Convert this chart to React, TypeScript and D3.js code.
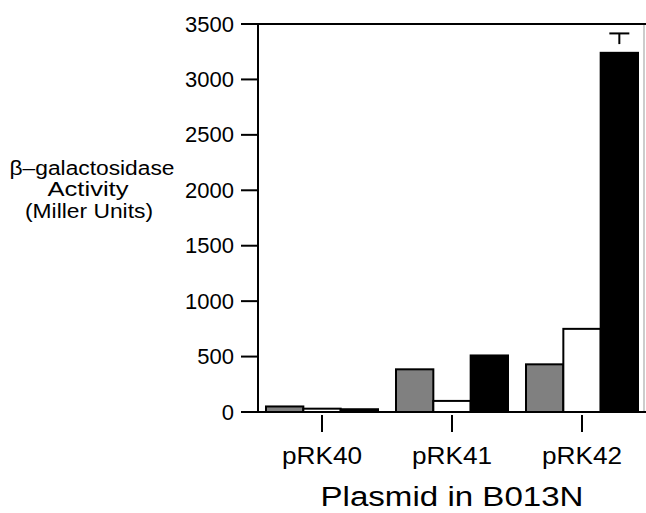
import * as d3 from "d3";

const plasmids = ["pRK40", "pRK41", "pRK42"];
const seriesKeys = ["gray", "white", "black"];
const grayValues = [50, 385, 430];
const whiteValues = [30, 100, 750];
const blackValues = [25, 510, 3240];
// only the pRK42 black bar carries an error bar
const blackErrors = [0, 0, 175];
const yTicks = [0, 500, 1000, 1500, 2000, 2500, 3000, 3500];

const FILL: Record<string, string> = { gray: "#808080", white: "#ffffff", black: "#000000" };
const FONT = "'Liberation Sans', Arial, Helvetica, sans-serif";

export default function App() {
  const W = 646, H = 513;
  const left = 258, top = 24, bottom = 412, right = 644;

  const x = d3.scaleBand<string>().domain(plasmids).range([257, 647])
    .paddingInner(0.1385).paddingOuter(0.0692);
  const xs = d3.scaleBand<string>().domain(seriesKeys).range([0, x.bandwidth()]);
  const y = d3.scaleLinear().domain([0, 3500]).range([bottom, top]);

  const values: Record<string, number[]> = { gray: grayValues, white: whiteValues, black: blackValues };

  return (
    <svg width={W} height={H} style={{ position: "absolute", left: 0, top: 0, fontFamily: FONT }}>
      <rect width={W} height={H} fill="#fff" />

      {/* bars */}
      {plasmids.map((p, i) => (
        <g key={p} transform={`translate(${x(p)},0)`}>
          {seriesKeys.map((k) => (
            <rect key={k} x={xs(k)} y={y(values[k][i])} width={xs.bandwidth()}
              height={y(0) - y(values[k][i])} fill={FILL[k]} stroke="#000" strokeWidth={2} />
          ))}
        </g>
      ))}

      {/* error bar */}
      {plasmids.map((p, i) => {
        const e = blackErrors[i];
        if (!e) return null;
        const cx = (x(p) ?? 0) + (xs("black") ?? 0) + xs.bandwidth() / 2;
        const capY = y(blackValues[i] + e);
        const stemEnd = y(blackValues[i] + e * 0.45);
        return (
          <g key={p} stroke="#000" strokeWidth={2}>
            <line x1={cx - 10} x2={cx + 10} y1={capY} y2={capY} />
            <line x1={cx} x2={cx} y1={capY} y2={stemEnd} />
          </g>
        );
      })}

      {/* frame */}
      <line x1={right} x2={right} y1={top} y2={bottom} stroke="#999" strokeWidth={1} />
      <line x1={241} x2={W} y1={top} y2={top} stroke="#000" strokeWidth={2} />
      <line x1={241} x2={W} y1={bottom} y2={bottom} stroke="#000" strokeWidth={2} />
      <line x1={left} x2={left} y1={top - 1} y2={bottom + 1} stroke="#000" strokeWidth={2} />

      {/* y ticks */}
      {yTicks.map((t) => (
        <g key={t}>
          <line x1={241} x2={left} y1={y(t)} y2={y(t)} stroke="#000" strokeWidth={2} />
          <text x={234} y={y(t) + 7.5} textAnchor="end" fontSize={22} fill="#000">{t}</text>
        </g>
      ))}

      {/* x ticks */}
      {plasmids.map((p) => {
        const cx = (x(p) ?? 0) + x.bandwidth() / 2;
        return (
          <g key={p}>
            <line x1={cx} x2={cx} y1={415} y2={432} stroke="#000" strokeWidth={2} />
            <text x={cx} y={464} textAnchor="middle" fontSize={23} textLength={80}
              lengthAdjust="spacingAndGlyphs" fill="#000">{p}</text>
          </g>
        );
      })}

      {/* axis titles */}
      <text x={452} y={506} textAnchor="middle" fontSize={27} textLength={263}
        lengthAdjust="spacingAndGlyphs" fill="#000">Plasmid in B013N</text>
      <g fontSize={20} fill="#000" textAnchor="middle">
        <text x={92} y={175} textLength={165} lengthAdjust="spacingAndGlyphs">β–galactosidase</text>
        <text x={88} y={196} textLength={81} lengthAdjust="spacingAndGlyphs">Activity</text>
        <text x={89} y={218} textLength={128} lengthAdjust="spacingAndGlyphs">(Miller Units)</text>
      </g>
    </svg>
  );
}
